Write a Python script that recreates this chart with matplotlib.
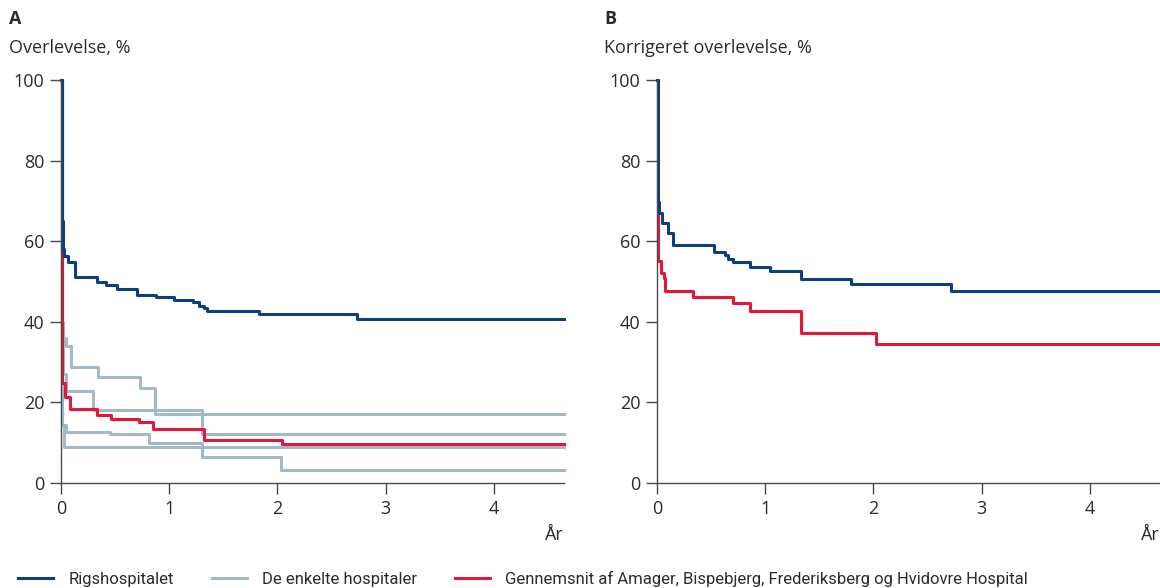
import matplotlib
matplotlib.use("Agg")
import matplotlib.pyplot as plt

# ---- data (years, survival %) ----
rig_a_t = [0, 0.005, 0.01, 0.02, 0.03, 0.06, 0.13, 0.33, 0.42, 0.52, 0.70, 0.88, 1.04, 1.22, 1.28, 1.32, 1.35, 1.83, 2.74, 4.65]
rig_a_v = [100, 80, 65, 58, 56.2, 54.8, 51.1, 49.8, 49.1, 48.1, 46.7, 46.2, 45.5, 44.8, 43.9, 43.3, 42.7, 41.9, 40.7, 40.7]

hosp1_t = [0, 0.005, 0.02, 0.05, 0.09, 0.34, 0.73, 0.87, 4.65]
hosp1_v = [100, 38, 36, 34, 28.7, 26.4, 23.5, 17.0, 17.0]
hosp2_t = [0, 0.01, 0.02, 0.05, 0.30, 1.30, 4.65]
hosp2_v = [100, 40, 27, 22.9, 18.2, 12.2, 12.2]
hosp3_t = [0, 0.005, 0.05, 0.45, 0.81, 1.30, 2.03, 4.65]
hosp3_v = [100, 14.3, 12.6, 12.2, 9.8, 6.4, 3.1, 3.1]
hosp4_t = [0, 0.005, 0.03, 4.65]
hosp4_v = [100, 14.3, 8.9, 8.9]

avg_a_t = [0, 0.005, 0.01, 0.04, 0.08, 0.33, 0.46, 0.72, 0.85, 1.32, 2.04, 4.65]
avg_a_v = [100, 40, 24.7, 21.4, 18.4, 16.9, 16.0, 15.2, 13.3, 10.7, 9.7, 9.7]

rig_b_t = [0, 0.005, 0.02, 0.05, 0.10, 0.15, 0.53, 0.63, 0.66, 0.70, 0.86, 1.04, 1.33, 1.79, 2.72, 4.65]
rig_b_v = [100, 69.8, 67, 64.6, 62, 59.1, 57.4, 56.6, 55.5, 54.9, 53.7, 52.7, 50.7, 49.4, 47.6, 47.6]

avg_b_t = [0, 0.01, 0.04, 0.06, 0.07, 0.33, 0.70, 0.86, 1.33, 2.02, 4.65]
avg_b_v = [100, 55.1, 52, 50.8, 47.6, 46.1, 44.6, 42.7, 37.1, 34.5, 34.5]

x_ticks = [0, 1, 2, 3, 4]
y_ticks = [0, 20, 40, 60, 80, 100]
legend_labels = ["Rigshospitalet", "De enkelte hospitaler",
                 "Gennemsnit af Amager, Bispebjerg, Frederiksberg og Hvidovre Hospital"]

NAVY = "#0b3f7e"
GRAY = "#a2bac6"
RED = "#e3173a"
AXIS = "#4a4a4a"
TEXT = "#2b2b2b"

plt.rcParams["font.family"] = ["Open Sans", "DejaVu Sans"]

fig = plt.figure(figsize=(11.6, 5.88), dpi=100)
ax_a = fig.add_axes([0.0526, 0.1786, 0.4336, 0.6854])
ax_b = fig.add_axes([0.5664, 0.1786, 0.4336, 0.6854])


def style(ax):
    ax.set_xlim(0, 4.65)
    ax.set_ylim(0, 100)
    ax.set_xticks(x_ticks)
    ax.set_yticks(y_ticks)
    for s in ["top", "right"]:
        ax.spines[s].set_visible(False)
    for s in ["left", "bottom"]:
        ax.spines[s].set_color(AXIS)
        ax.spines[s].set_linewidth(1.0)
    ax.tick_params(axis="both", length=8, width=1.0, color=AXIS, labelsize=13,
                   labelcolor=TEXT, pad=4)
    ax.set_facecolor("none")


lw = 2.2
for t, v in [(hosp1_t, hosp1_v), (hosp2_t, hosp2_v), (hosp3_t, hosp3_v), (hosp4_t, hosp4_v)]:
    ax_a.plot(t, v, drawstyle="steps-post", color=GRAY, lw=lw, clip_on=False)
ax_a.plot(avg_a_t, avg_a_v, drawstyle="steps-post", color=RED, lw=lw, clip_on=False)
ax_a.plot(rig_a_t, rig_a_v, drawstyle="steps-post", color=NAVY, lw=lw, clip_on=False)

ax_b.plot(avg_b_t, avg_b_v, drawstyle="steps-post", color=RED, lw=lw, clip_on=False)
ax_b.plot(rig_b_t, rig_b_v, drawstyle="steps-post", color=NAVY, lw=lw, clip_on=False)

style(ax_a)
style(ax_b)

for ax in (ax_a, ax_b):
    ax.text(1.0, -0.13, "År", transform=ax.transAxes, ha="right", va="center",
            fontsize=13, color=TEXT)

fig.text(0.008, 0.968, "A", fontsize=13, fontweight="bold", color=TEXT, va="center")
fig.text(0.008, 0.918, "Overlevelse, %", fontsize=13, color=TEXT, va="center")
fig.text(0.521, 0.968, "B", fontsize=13, fontweight="bold", color=TEXT, va="center")
fig.text(0.521, 0.918, "Korrigeret overlevelse, %", fontsize=13, color=TEXT, va="center")

handles = [plt.Line2D([], [], color=c, lw=lw) for c in (NAVY, GRAY, RED)]
fig.legend(handles, legend_labels, loc="lower left", bbox_to_anchor=(0.0086, -0.012),
           ncol=3, frameon=False, borderpad=0, handlelength=2.1, handletextpad=0.9,
           columnspacing=2.3,
           prop={"family": ["Liberation Sans Narrow", "Roboto", "DejaVu Sans"], "size": 12},
           labelcolor=TEXT)

fig.savefig("out.png", dpi=100)
